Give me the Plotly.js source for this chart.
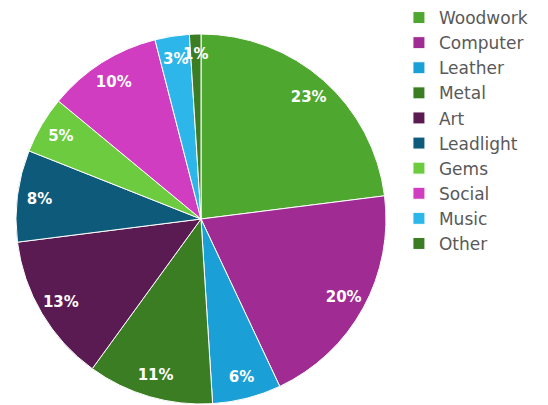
<!DOCTYPE html>
<html>
<head>
<meta charset="utf-8">
<script src="https://cdn.plot.ly/plotly-3.0.1.min.js"></script>
<style>html,body{margin:0;padding:0;background:#fff;}#chart{width:548px;height:405px;}</style>
</head>
<body>
<div id="chart"></div>
<script>
const categories = ["Woodwork","Computer","Leather","Metal","Art","Leadlight","Gems","Social","Music","Other"];
const shares = [23, 20, 6, 11, 13, 8, 5, 10, 3, 1];
const sliceColors = ["#4EA72E","#A02B93","#1A9FD6","#3B7D23","#5A1A52","#0E5A7A","#6CCB3F","#D03DC0","#2DB6EA","#3B7D23"];

const cx = 201, cy = 219, r = 185, rSmall = 170, W = 548, H = 405;
const domOf = (rad) => ({x: [(cx - rad) / W, (cx + rad) / W], y: [(H - (cy + rad)) / H, (H - (cy - rad)) / H]});
const isThin = shares.map(v => v < 4);

const labelFont = {family: "DejaVu Sans, Arial, sans-serif", size: 15, color: "#ffffff", weight: "bold"};
const transparent = categories.map(() => "rgba(0,0,0,0)");

// Filled slices (no text)
const slices = {
  type: "pie",
  labels: categories,
  values: shares,
  sort: false,
  direction: "clockwise",
  rotation: 0,
  marker: {colors: sliceColors, line: {color: "#ffffff", width: 1}},
  textinfo: "none",
  hoverinfo: "label+percent",
  domain: domOf(r)
};

// Transparent ring overlay carrying the percentage labels near the rim
const labelsRing = {
  type: "pie",
  labels: categories,
  values: shares,
  sort: false,
  direction: "clockwise",
  rotation: 0,
  hole: 0.76,
  showlegend: false,
  marker: {colors: transparent, line: {width: 0}},
  texttemplate: "%{percent:.0%}",
  textposition: isThin.map(t => t ? "none" : "inside"),
  insidetextorientation: "horizontal",
  textfont: labelFont,
  hoverinfo: "skip",
  domain: domOf(r)
};

// Second transparent ring for the thin slices, keeping their labels inside the rim
const labelsThin = {
  type: "pie",
  labels: categories,
  values: shares,
  sort: false,
  direction: "clockwise",
  rotation: 0,
  hole: 0.9,
  showlegend: false,
  marker: {colors: transparent, line: {width: 0}},
  texttemplate: "%{percent:.0%}",
  textposition: isThin.map(t => t ? "inside" : "none"),
  insidetextorientation: "horizontal",
  textfont: labelFont,
  hoverinfo: "skip",
  domain: domOf(rSmall)
};

const layout = {
  width: W, height: H,
  margin: {l: 0, r: 0, t: 0, b: 0},
  paper_bgcolor: "#ffffff",
  showlegend: true,
  uniformtext: {mode: "show", minsize: 15},
  legend: {
    x: 0.728, y: 1.0, xanchor: "left", yanchor: "top",
    font: {family: "DejaVu Sans, Arial, sans-serif", size: 17, color: "#595959"},
    itemwidth: 30, tracegroupgap: 0
  }
};

Plotly.newPlot("chart", [slices, labelsRing, labelsThin], layout, {displayModeBar: false, staticPlot: true});
</script>
</body>
</html>
